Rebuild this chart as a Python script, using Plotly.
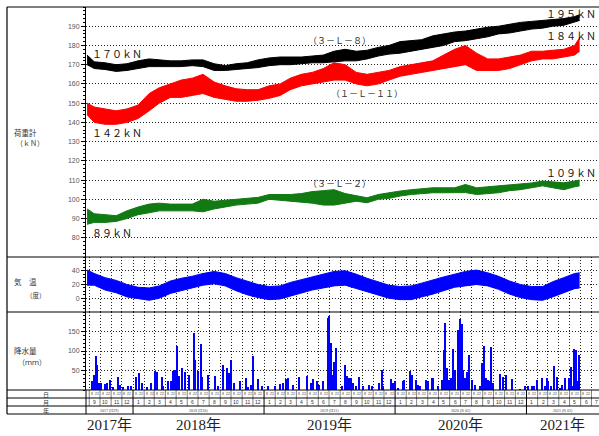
import plotly.graph_objects as go
import pandas as pd

# ---------------- data ----------------
# band dates: series start, mid-month Sep 2017 .. May 2021, series end
series_start = "2017-08-26"
series_end = "2021-05-29"
mid_months = [d.strftime("%Y-%m-%d") for d in
              pd.date_range("2017-09-01", "2021-05-01", freq="MS") + pd.Timedelta(days=14)]
band_dates = [series_start] + mid_months + [series_end]

# (3-L-8) load, kN : lower / upper edge of daily scatter
black_lo = [170, 168, 167.5, 166.5, 167, 168, 169, 169, 169, 169, 169.5, 169, 167, 167, 167.5, 168,
            168.5, 169.5, 170, 170, 170.5, 171, 171, 171.5, 172, 172, 173, 174.5, 175.5, 176, 177,
            178, 179, 180, 182, 182.5, 183.5, 184.5, 186, 186.5, 187.5, 188.5, 189, 190, 190.5, 192, 193]
black_hi = [175, 171.5, 171, 170, 170.5, 172, 173, 172.5, 172, 172, 172.5, 172.5, 170.5, 169.5, 170.5,
            171, 172.5, 173.5, 174, 174, 174, 174.5, 175, 177, 178, 177, 177.5, 179, 180, 182, 182.5,
            183, 185, 186, 187, 187.5, 188.5, 189.5, 190, 191, 192, 192.5, 193, 193.5, 194, 195, 196]
# (1-L-11)
red_lo = [144, 140, 139, 139, 140, 142, 146, 150, 153, 153, 154, 155, 153, 152, 151, 151, 151.5,
          152.5, 154, 157, 159, 160, 161, 162, 162, 160, 159, 160, 162, 164, 165, 166, 167, 168, 169,
          170, 167, 167, 167, 168, 170, 172, 173, 173, 174, 175, 177]
red_hi = [150, 148, 147, 146, 147, 149, 155, 158, 160, 162, 163, 165, 161, 159, 157.5, 157, 157, 159,
          160, 163, 165, 166, 168, 171, 170, 166, 165, 166, 167, 169, 170, 171, 172, 175, 178, 180, 176,
          173, 173, 174, 175, 177, 177, 177.5, 178, 180, 184]
# (3-L-2)
green_lo = [87, 88, 88, 88.5, 90, 92, 93, 94, 94, 94, 94, 93.5, 95, 96, 97, 97.5, 98, 100, 99.5, 99,
            98.5, 98, 97, 97, 98, 99, 98.2, 100, 100.5, 101.7, 102.5, 103, 103.4, 103.4, 103.4, 103.5,
            102.5, 103, 103.4, 104.5, 105, 106, 107, 106, 105, 106.5, 107]
green_hi = [95, 92.5, 92, 91.5, 94, 96, 97.5, 98, 97.5, 97.5, 97.5, 100, 99, 99.5, 100, 100.5, 101,
            102.5, 102.5, 102.5, 103, 104, 104.5, 105, 103, 101.7, 100.8, 102.5, 103.5, 104.3, 105,
            105.5, 106, 106, 106, 107.7, 106, 106.5, 106.9, 107.5, 107.7, 108.5, 109.5, 109, 108.6,
            109.5, 110]
# air temperature, deg C
temp_lo = [19, 19, 12, 8, 2, -1, -3, 0, 7, 11, 15, 19, 21, 18, 11, 5, 1, -2, -1, 3, 7, 12, 15, 18, 19,
           14, 9, 4, 0, -2, -2, 2, 6, 11, 16, 18, 20, 18, 13, 6, 1, -2, -3, 2, 8, 14, 15]
temp_hi = [41, 36, 30, 26, 20, 16, 15, 18, 25, 29, 32, 36, 39, 36, 30, 25, 20, 17, 18, 23, 27, 31, 35,
           39, 40, 35, 29, 24, 19, 17, 18, 22, 27, 31, 35, 39, 41, 37, 32, 25, 20, 17, 17, 24, 30, 36, 37]

# precipitation: day offset from 2017-09-01, mm
precip_day = [7, 13, 18, 23, 27, 32, 44, 50, 58, 67, 79, 86, 93, 109, 116, 130, 139, 146, 160, 172,
              184, 188, 202, 206, 220, 227, 234, 239, 244, 250, 259, 267, 279, 292, 296, 304, 311, 313,
              332, 350, 360, 374, 383, 390, 395, 402, 420, 436, 443, 450, 457, 471, 481, 499, 518, 532,
              541, 548, 555, 569, 585, 606, 618, 624, 634, 641, 650, 664, 668, 673, 678, 683, 688, 703,
              713, 717, 725, 729, 736, 743, 752, 762, 780, 788, 808, 815, 819, 841, 847, 852, 861, 873,
              877, 894, 898, 910, 917, 922, 937, 943, 954, 959, 973, 982, 987, 991, 996, 1002, 1007,
              1014, 1019, 1028, 1033, 1038, 1042, 1047, 1052, 1059, 1066, 1075, 1089, 1093, 1101, 1105,
              1110, 1115, 1119, 1126, 1144, 1154, 1161, 1177, 1200, 1214, 1223, 1233, 1240, 1248, 1261,
              1270, 1275, 1279, 1287, 1295, 1302, 1312, 1318, 1324, 1337, 1341, 1346, 1351, 1356, 1361,
              1365]
precip_mm = [24, 39, 86, 65, 19, 19, 15, 17, 26, 7, 34, 13, 7, 10, 9, 34, 43, 19, 7, 17,
             50, 46, 34, 9, 22, 22, 48, 52, 112, 36, 56, 47, 39, 145, 76, 50, 117, 34,
             39, 37, 10, 65, 56, 43, 78, 19, 22, 30, 7, 13, 86, 28, 10, 9, 10, 15,
             17, 28, 30, 13, 34, 36, 19, 28, 23, 13, 22, 185, 190, 121, 39, 73, 108, 9,
             63, 36, 30, 32, 17, 9, 34, 9, 13, 10, 17, 52, 9, 28, 17, 24, 4, 22,
             26, 49, 39, 26, 13, 9, 26, 22, 30, 30, 9, 26, 103, 172, 56, 26, 30,
             105, 52, 155, 183, 168, 52, 30, 47, 90, 26, 13, 9, 69, 114, 30,
             26, 22, 109, 17, 40, 34, 39, 28, 2, 9, 10, 9, 10, 26, 30,
             9, 30, 24, 9, 62, 34, 6, 13, 30, 30, 60, 9, 105, 103, 22,
             90]

load_ticks = [80, 90, 100, 110, 120, 130, 140, 150, 160, 170, 180, 190]
temp_ticks = [0, 20, 40]
precip_ticks = [50, 100, 150]
year_cells = ["2017 (H29)", "2018 (H30)", "2019 (H31)", "2020 (R 02)", "2021 (R 03)"]
year_big = ["2017年", "2018年", "2019年", "2020年", "2021年"]
day_marks = [8, 22]

# ---------------- geometry ----------------
W, H = 599, 436
ML, MR, MT, MB = 86, 0, 7, 46
PW, PH = W - ML - MR, H - MT - MB
X_START, X_END = "2017-08-23", "2021-07-22"


def py(Y):  # pixel row -> paper y
    return (H - MB - Y) / PH


def px(X):  # pixel column -> paper x
    return (X - ML) / PW


CJK = "Noto Sans CJK JP"
fig = go.Figure()


def band(lo, hi, color, xa, ya):
    fig.add_trace(go.Scatter(x=band_dates, y=lo, mode="lines", line=dict(color=color, width=1),
                             xaxis=xa, yaxis=ya, showlegend=False, hoverinfo="skip"))
    fig.add_trace(go.Scatter(x=band_dates, y=hi, mode="lines", line=dict(color=color, width=1),
                             fill="tonexty", fillcolor=color, xaxis=xa, yaxis=ya,
                             showlegend=False, hoverinfo="skip"))


band(red_lo, red_hi, "#ff0000", "x", "y")
band(black_lo, black_hi, "#000000", "x", "y")
band(green_lo, green_hi, "#127a12", "x", "y")
band(temp_lo, temp_hi, "#0000ff", "x2", "y2")

precip_dates = pd.Timestamp("2017-09-01") + pd.to_timedelta(precip_day, unit="D")
fig.add_trace(go.Bar(x=precip_dates, y=precip_mm, width=3 * 86400000,
                     marker=dict(color="#0000ff", line=dict(width=0)),
                     xaxis="x3", yaxis="y3", showlegend=False, hoverinfo="skip"))

dotgrid = dict(showgrid=True, gridcolor="#222", gridwidth=1, griddash="1px,2px")
common_y = dict(showline=True, linecolor="#000", linewidth=1, ticks="outside", ticklen=4,
                tickcolor="#000", tickfont=dict(size=7, color="#555", family="Liberation Sans"),
                zeroline=False, **dotgrid)
common_x = dict(range=[X_START, X_END], showticklabels=False, ticks="", zeroline=False,
                showline=False)

fig.update_layout(
    width=W, height=H, margin=dict(l=ML, r=MR, t=MT, b=MB),
    paper_bgcolor="white", plot_bgcolor="white", showlegend=False,
    xaxis=dict(anchor="y", domain=[0, 1], showgrid=False, **common_x),
    xaxis2=dict(anchor="y2", domain=[0, 1], matches="x", dtick="M1", tick0="2017-09-01",
                **dotgrid, **common_x),
    xaxis3=dict(anchor="y3", domain=[0, 1], matches="x", dtick="M1", tick0="2017-09-01",
                **dotgrid, **common_x),
    yaxis=dict(anchor="x", domain=[py(257), 1], range=[70, 200], tickvals=load_ticks,
               minor=dict(dtick=2, ticklen=2, ticks="outside", tickcolor="#000"), **common_y),
    yaxis2=dict(anchor="x2", domain=[py(312), py(257)], range=[-20, 60], tickvals=temp_ticks,
                minor=dict(dtick=5, ticklen=2, ticks="outside", tickcolor="#000"), **common_y),
    yaxis3=dict(anchor="x3", domain=[0, py(312)], range=[0, 200], tickvals=precip_ticks,
                minor=dict(dtick=10, ticklen=2, ticks="outside", tickcolor="#000"), **common_y),
    bargap=0,
)

shapes = []


def hline(Y, x0=7, x1=W, w=1):
    shapes.append(dict(type="line", xref="paper", yref="paper", x0=px(x0), x1=px(x1),
                       y0=py(Y), y1=py(Y), line=dict(color="#000", width=w)))


for Y in (7, 257, 312, 390, 398, 406, 414):
    hline(Y, w=1.2 if Y in (257, 312, 390) else 1)
# outer left frame and table left column edge
shapes.append(dict(type="line", xref="paper", yref="paper", x0=px(7), x1=px(7),
                   y0=py(7), y1=py(414), line=dict(color="#000", width=1.2)))
shapes.append(dict(type="line", xref="paper", yref="paper", x0=0, x1=0,
                   y0=py(390), y1=py(414), line=dict(color="#000", width=1)))

month_starts = pd.date_range("2017-09-01", "2021-07-01", freq="MS")
for d in month_starts:
    is_year = d.month == 1
    shapes.append(dict(type="line", xref="x", yref="paper", x0=d, x1=d,
                       y0=py(414) if is_year else py(406), y1=py(390),
                       line=dict(color="#000", width=1 if is_year else 0.5)))

annotations = []


def text(s, x, y, size, xref="x", yref="y", xanchor="center", color="#111", family=CJK,
         yanchor="middle"):
    annotations.append(dict(text=s, x=x, y=y, xref=xref, yref=yref, xanchor=xanchor,
                            yanchor=yanchor, showarrow=False,
                            font=dict(size=size, color=color, family=family)))


# series labels
text("１７０ｋＮ", "2017-09-04", 176, 10, xanchor="left")
text("１４２ｋＮ", "2017-09-04", 135, 10, xanchor="left")
text("８９ｋＮ", "2017-09-04", 83, 10, xanchor="left")
text("１９５ｋＮ", 0.998, 196.8, 10, xref="paper", xanchor="right")
text("１８４ｋＮ", 0.998, 185.4, 10, xref="paper", xanchor="right")
text("１０９ｋＮ", 0.998, 113.8, 10, xref="paper", xanchor="right")
text("（３－Ｌ－８）", "2019-07-31", 182.8, 9, color="#333")
text("（１－Ｌ－１１）", "2019-10-14", 154.8, 9, color="#333")
text("（３－Ｌ－２）", "2019-07-31", 108, 9, color="#333")

# left column labels
text("荷重計", px(12), py(132), 7.5, xref="paper", yref="paper", xanchor="left", color="#333")
text("（ｋＮ）", px(14), py(143), 7, xref="paper", yref="paper", xanchor="left", color="#333")
text("気　温", px(12), py(282), 7.5, xref="paper", yref="paper", xanchor="left", color="#333")
text("（度）", px(24), py(295), 6.5, xref="paper", yref="paper", xanchor="left", color="#333")
text("降水量", px(12), py(350), 7.5, xref="paper", yref="paper", xanchor="left", color="#333")
text("（ｍｍ）", px(16), py(362), 7, xref="paper", yref="paper", xanchor="left", color="#333")

# table row labels
for lab, Y in (("日", 394.5), ("月", 402), ("年", 410)):
    text(lab, px(46), py(Y), 6, xref="paper", yref="paper", color="#333")

# day row, month row
for d in month_starts[:-1]:
    for dd in day_marks:
        text(str(dd), d + pd.Timedelta(days=dd - 1), py(394.5), 3.5, yref="paper",
             color="#444", family="Liberation Sans")
for d in month_starts:
    text(str(d.month), d + pd.Timedelta(days=15), py(402), 5, yref="paper",
         color="#333", family="Liberation Sans")

# year row + big year labels
year_bounds = [pd.Timestamp(X_START), pd.Timestamp("2018-01-01"), pd.Timestamp("2019-01-01"),
               pd.Timestamp("2020-01-01"), pd.Timestamp("2021-01-01"), pd.Timestamp(X_END)]
for i, lab in enumerate(year_cells):
    mid = year_bounds[i] + (year_bounds[i + 1] - year_bounds[i]) / 2
    text(lab, mid, py(410), 4, yref="paper", color="#444", family="Liberation Serif")
    text(year_big[i], mid, py(425), 15, yref="paper", color="#222",
         family="Liberation Serif, Noto Sans CJK JP")

fig.update_layout(shapes=shapes, annotations=annotations)
fig.write_html("out.html", config={"displayModeBar": False},
               post_script="document.body.style.margin='0';document.body.style.padding='0';"
                           "document.body.style.overflow='hidden';")
